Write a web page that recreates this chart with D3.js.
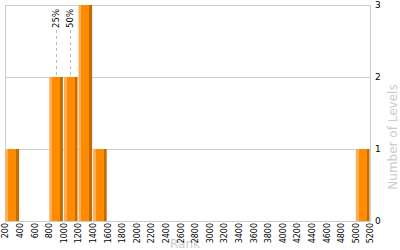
<!DOCTYPE html>
<html>
<head>
<meta charset="utf-8">
<script src="https://cdn.jsdelivr.net/npm/d3@7"></script>
<style>
  body { margin: 0; background: #fff; }
  text { font-family: 'DejaVu Sans', Verdana, sans-serif; }
</style>
</head>
<body>
<script>
// histogram bins (rank)
const binStart = [200, 800, 1000, 1200, 1400, 5000];
const binEnd = [400, 1000, 1200, 1400, 1600, 5200];
const binCount = [1, 2, 2, 3, 1, 1];

const xTicks = d3.range(200, 5201, 200);
const yTicks = [0, 1, 2, 3];

const pctLabels = ['25%', '50%'];
const pctValues = [900, 1095];

const W = 400, H = 250;
const mLeft = 5, mRight = 370, mTop = 5, mBottom = 221;

let svg = d3.select('body').append('svg')
  .attr('width', W)
  .attr('height', H);

let x = d3.scaleLinear().domain([200, 5200]).range([mLeft, mRight]);
let y = d3.scaleLinear().domain([0, 3]).range([mBottom, mTop]);

// bar gradient: light edge, orange body, dark edge
let grad = svg.append('defs').append('linearGradient')
  .attr('id', 'barGrad')
  .attr('x1', '0%').attr('x2', '100%').attr('y1', '0%').attr('y2', '0%');
[[0, '#ffad55'], [0.21, '#ffad55'], [0.21, '#ff8c00'], [0.78, '#ff8c00'], [0.78, '#c46c00'], [1, '#c46c00']]
  .forEach(s => grad.append('stop').attr('offset', s[0]).attr('stop-color', s[1]));

// grid lines
svg.append('g')
  .selectAll('line')
  .data(yTicks)
  .enter()
    .append('line')
    .attr('x1', mLeft).attr('x2', mRight)
    .attr('y1', d => y(d) + 0.5).attr('y2', d => y(d) + 0.5)
    .attr('stroke', '#cccccc');

// frame
svg.append('line')
  .attr('x1', mLeft + 0.5).attr('x2', mLeft + 0.5)
  .attr('y1', mTop).attr('y2', mBottom)
  .attr('stroke', '#cccccc');
svg.append('line')
  .attr('x1', mRight + 0.5).attr('x2', mRight + 0.5)
  .attr('y1', mTop).attr('y2', mBottom + 1)
  .attr('stroke', '#cccccc');

// percentile markers
pctValues.forEach((v, i) => {
  let xp = Math.round(x(v)) + 0.5;
  let idx = binStart.findIndex((s, j) => v >= s && v < binEnd[j]);
  svg.append('line')
    .attr('x1', xp).attr('x2', xp)
    .attr('y1', 30).attr('y2', y(binCount[idx]))
    .attr('stroke', '#bbbbbb')
    .attr('stroke-dasharray', '3,3');
  svg.append('text')
    .attr('transform', 'translate(' + xp + ',9) rotate(-90)')
    .attr('text-anchor', 'end')
    .attr('dy', '0.35em')
    .attr('font-size', '8.5px')
    .attr('fill', '#000')
    .text(pctLabels[i]);
});

// bars
svg.append('g')
  .selectAll('rect')
  .data(binCount)
  .enter()
    .append('rect')
    .attr('x', (d, i) => x(binStart[i]) + 0.5)
    .attr('width', (d, i) => x(binEnd[i]) - x(binStart[i]) - 1)
    .attr('y', d => y(d))
    .attr('height', d => y(0) - y(d))
    .attr('fill', 'url(#barGrad)');

// axis titles
svg.append('text')
  .attr('x', 185).attr('y', 248)
  .attr('text-anchor', 'middle')
  .attr('font-size', '12px')
  .attr('fill', '#cccccc')
  .text('Rank');

svg.append('text')
  .attr('transform', 'translate(397,137) rotate(-90)')
  .attr('text-anchor', 'middle')
  .attr('font-size', '12px')
  .attr('fill', '#cccccc')
  .text('Number of Levels');

// x tick labels
svg.append('g')
  .selectAll('text')
  .data(xTicks)
  .enter()
    .append('text')
    .attr('transform', d => 'translate(' + (x(d) + 0.5) + ',223) rotate(-90)')
    .attr('text-anchor', 'end')
    .attr('dy', '0.35em')
    .attr('font-size', '8px')
    .attr('fill', '#000')
    .text(d => d);

// y tick labels (right)
svg.append('g')
  .selectAll('text')
  .data(yTicks)
  .enter()
    .append('text')
    .attr('x', 375)
    .attr('y', d => y(d))
    .attr('dy', '0.3em')
    .attr('font-size', '9px')
    .attr('fill', '#000')
    .text(d => d);
</script>
</body>
</html>
